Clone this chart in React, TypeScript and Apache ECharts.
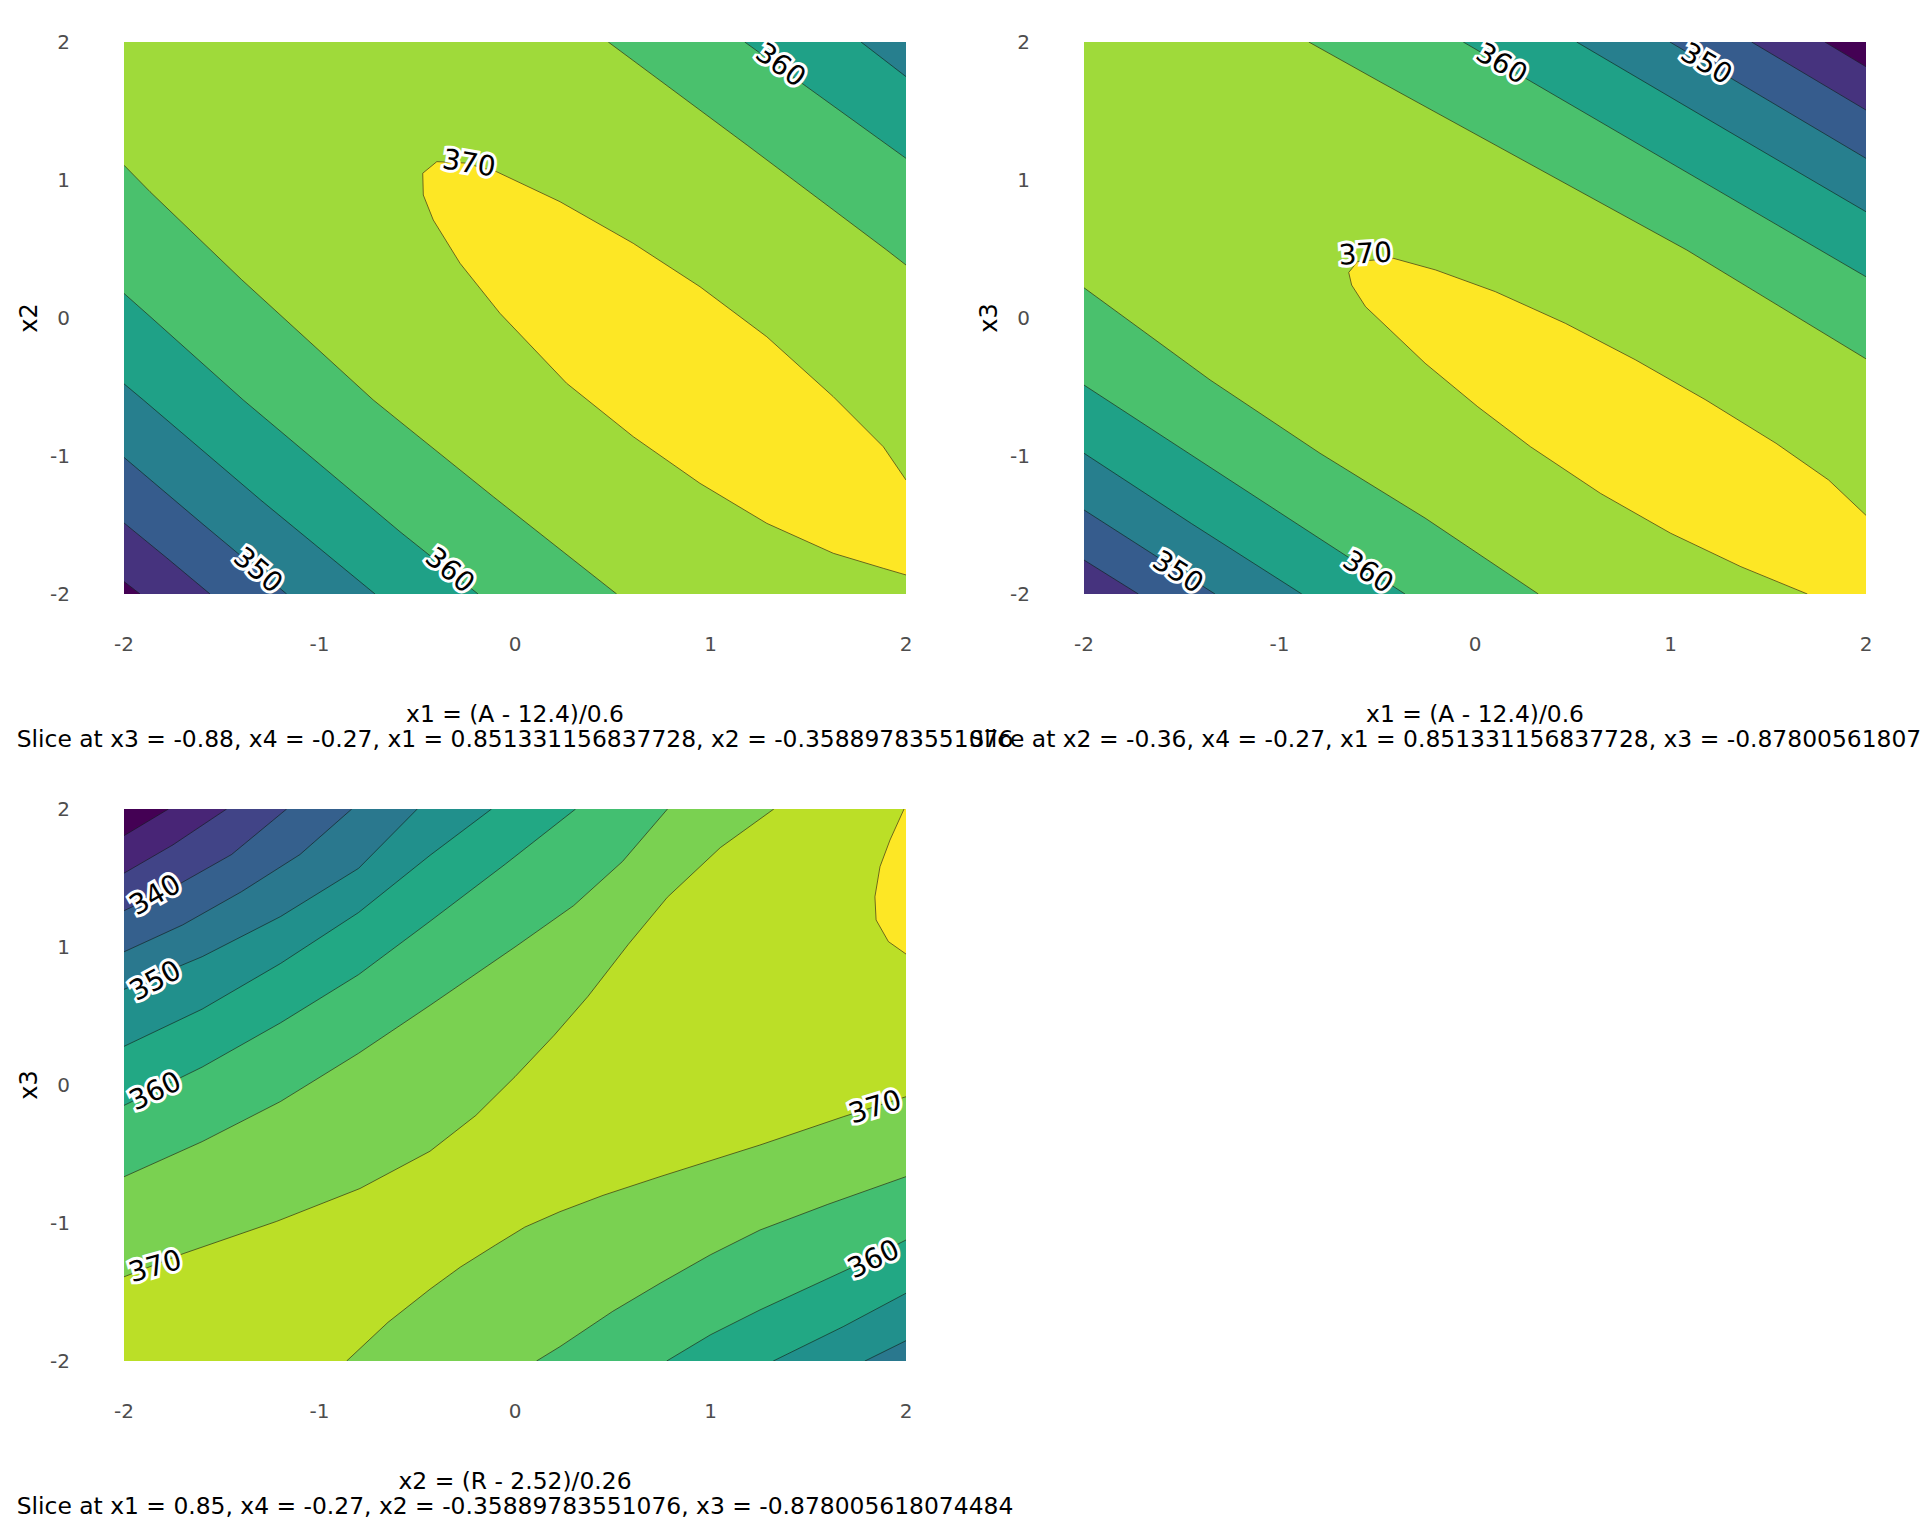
import React, { useEffect, useRef } from "react";
import * as echarts from "echarts";

type Pt = [number, number];

// ---------- palettes (viridis) ----------
const VIRIDIS_8 = ["#440154", "#46337E", "#365C8D", "#277F8E", "#1FA187", "#4AC16D", "#9FDA3A", "#FDE725"];
const VIRIDIS_11 = ["#440154", "#482576", "#414487", "#35608D", "#2A788E", "#21908C", "#22A884", "#43BF71", "#7AD151", "#BBDF27", "#FDE725"];

// ---------- panel 1 : x1 vs x2 ----------
const P1_LEVELS = [340, 345, 350, 355, 360, 365, 370];
const P1_L340_LL: Pt[] = [[-1.918, -2], [-2, -1.91]];
const P1_L345_LL: Pt[] = [[-1.56, -2], [-1.78, -1.74], [-2, -1.485]];
const P1_L350_LL: Pt[] = [[-1.168, -2], [-1.6, -1.49], [-2, -1.01]];
const P1_L355_LL: Pt[] = [[-0.716, -2], [-1.3, -1.32], [-1.901, -0.594], [-2, -0.477]];
const P1_L360_LL: Pt[] = [[-0.189, -2], [-0.588, -1.549], [-1.39, -0.594], [-1.867, 0.011], [-2, 0.178]];
const P1_L365_LL: Pt[] = [[0.52, -2], [-0.111, -1.295], [-0.588, -0.751], [-0.725, -0.594], [-1.4, 0.28], [-1.867, 0.915], [-2, 1.107]];
const P1_L355_UR: Pt[] = [[1.77, 2], [2, 1.749]];
const P1_L360_UR: Pt[] = [[1.175, 2], [1.492, 1.676], [2, 1.157]];
const P1_L365_UR: Pt[] = [[0.477, 2], [1.19, 1.25], [1.901, 0.493], [2, 0.384]];
const P1_L370: Pt[] = [
  [2, -1.862], [1.884, -1.814], [1.628, -1.705], [1.288, -1.488], [0.946, -1.198], [0.605, -0.86],
  [0.264, -0.473], [-0.077, 0.034], [-0.281, 0.396], [-0.418, 0.71], [-0.469, 0.891], [-0.472, 1.049],
  [-0.4, 1.133], [-0.256, 1.123], [-0.094, 1.06], [0.23, 0.843], [0.605, 0.541], [0.946, 0.227],
  [1.288, -0.136], [1.628, -0.57], [1.884, -0.933], [2, -1.174],
];
const P1_LABELS: [number, number, string, number][] = [
  [-0.235, 1.123, "370", -0.165],
  [1.36, 1.835, "360", -0.63],
  [-1.313, -1.826, "350", -0.7],
  [-0.332, -1.826, "360", -0.69],
];

// ---------- panel 2 : x1 vs x3 ----------
const P2_LEVELS = [340, 345, 350, 355, 360, 365, 370];
const P2_L345_LL: Pt[] = [[-1.722, -2], [-2, -1.754]];
const P2_L350_LL: Pt[] = [[-1.33, -2], [-2, -1.391]];
const P2_L355_LL: Pt[] = [[-0.886, -2], [-1.45, -1.49], [-2, -0.98]];
const P2_L360_LL: Pt[] = [[-0.358, -2], [-0.793, -1.6], [-1.4, -1.04], [-2, -0.486]];
const P2_L365_LL: Pt[] = [[0.324, -2], [-0.255, -1.45], [-0.793, -0.98], [-1.355, -0.449], [-2, 0.219]];
const P2_L340_UR: Pt[] = [[1.79, 2], [2, 1.821]];
const P2_L345_UR: Pt[] = [[1.415, 2], [2, 1.507]];
const P2_L350_UR: Pt[] = [[0.997, 2], [2, 1.157]];
const P2_L355_UR: Pt[] = [[0.52, 2], [1.3, 1.35], [2, 0.77]];
const P2_L360_UR: Pt[] = [[-0.06, 2], [1.765, 0.493], [2, 0.299]];
const P2_L365_UR: Pt[] = [[-0.85, 2], [-0.486, 1.712], [1.083, 0.493], [2, -0.296]];
const P2_L370: Pt[] = [
  [1.7, -2], [1.36, -1.802], [1.001, -1.56], [0.642, -1.271], [0.284, -0.933], [0.014, -0.643],
  [-0.255, -0.328], [-0.434, -0.087], [-0.56, 0.082], [-0.631, 0.239], [-0.646, 0.33], [-0.6, 0.41],
  [-0.416, 0.432], [-0.201, 0.348], [0.104, 0.191], [0.463, -0.039], [0.822, -0.304], [1.181, -0.594],
  [1.54, -0.908], [1.809, -1.174], [2, -1.43],
];
const P2_LABELS: [number, number, string, number][] = [
  [-0.561, 0.467, "370", 0.06],
  [0.137, 1.846, "360", -0.53],
  [1.185, 1.846, "350", -0.54],
  [-1.518, -1.838, "350", -0.57],
  [-0.546, -1.838, "360", -0.58],
];

// ---------- panel 3 : x2 vs x3 ----------
const P3_LEVELS = [330, 335, 340, 345, 350, 355, 360, 365, 370, 375];
const P3_L330_A: Pt[] = [[-2, 1.807], [-1.773, 2]];
const P3_L335_A: Pt[] = [[-2, 1.535], [-1.75, 1.74], [-1.475, 2]];
const P3_L340_A: Pt[] = [[-2, 1.263], [-1.75, 1.43], [-1.45, 1.67], [-1.168, 2]];
const P3_L345_A: Pt[] = [[-2, 0.965], [-1.7, 1.16], [-1.4, 1.4], [-1.1, 1.67], [-0.835, 2]];
const P3_L350_A: Pt[] = [[-2, 0.693], [-1.6, 0.93], [-1.2, 1.22], [-0.8, 1.57], [-0.5, 2]];
const P3_L355_A: Pt[] = [[-2, 0.28], [-1.6, 0.55], [-1.2, 0.88], [-0.8, 1.25], [-0.435, 1.664], [-0.12, 2]];
const P3_L360_A: Pt[] = [[-2, -0.148], [-1.6, 0.13], [-1.2, 0.45], [-0.8, 0.8], [-0.435, 1.186], [-0.05, 1.6], [0.31, 2]];
const P3_L365_A: Pt[] = [[-2, -0.665], [-1.6, -0.41], [-1.2, -0.12], [-0.8, 0.23], [-0.435, 0.577], [0, 1.0], [0.3, 1.3], [0.55, 1.62], [0.78, 2]];
const P3_L370_A: Pt[] = [
  [-2, -1.39], [-1.697, -1.222], [-1.219, -0.988], [-0.793, -0.75], [-0.435, -0.48],
  [-0.2, -0.22], [0, 0.06], [0.2, 0.36], [0.372, 0.64], [0.58, 1.02], [0.779, 1.36], [1.05, 1.72], [1.324, 2],
];
const P3_L350_B: Pt[] = [[2, -1.853], [1.79, -2]];
const P3_L355_B: Pt[] = [[2, -1.509], [1.679, -1.751], [1.321, -2]];
const P3_L360_B: Pt[] = [[2, -1.123], [1.731, -1.317], [1.253, -1.63], [1.0, -1.81], [0.776, -2]];
const P3_L365_B: Pt[] = [[2, -0.664], [1.6, -0.865], [1.253, -1.051], [1.0, -1.23], [0.742, -1.437], [0.5, -1.64], [0.23, -1.896], [0.11, -2]];
const P3_L370_B: Pt[] = [
  [2, -0.085], [1.679, -0.23], [1.253, -0.435], [0.742, -0.664], [0.45, -0.8], [0.23, -0.918],
  [0.05, -1.03], [-0.1, -1.16], [-0.28, -1.32], [-0.435, -1.48], [-0.65, -1.72], [-0.861, -2],
];
const P3_L375: Pt[] = [[2, 0.949], [1.91, 1.039], [1.847, 1.196], [1.841, 1.364], [1.867, 1.582], [1.918, 1.775], [1.99, 2]];
const P3_LABELS: [number, number, string, number][] = [
  [-1.841, 1.38, "340", 0.52],
  [-1.841, 0.758, "350", 0.5],
  [-1.841, -0.043, "360", 0.45],
  [-1.841, -1.312, "370", 0.28],
  [1.841, -0.157, "370", 0.3],
  [1.833, -1.259, "360", 0.45],
];

// ---------- texts ----------
const P1_XNAME = "x1 = (A - 12.4)/0.6";
const P1_SLICE = "Slice at x3 = -0.88, x4 = -0.27, x1 = 0.851331156837728, x2 = -0.35889783551076";
const P2_XNAME = "x1 = (A - 12.4)/0.6";
const P2_SLICE = "Slice at x2 = -0.36, x4 = -0.27, x1 = 0.851331156837728, x3 = -0.878005618074484";
const P3_XNAME = "x2 = (R - 2.52)/0.26";
const P3_SLICE = "Slice at x1 = 0.85, x4 = -0.27, x2 = -0.35889783551076, x3 = -0.878005618074484";
const YNAMES = ["x2", "x3", "x3"];

// region boundaries for each level (region where value > level)
const P1_BOUNDS: Pt[][][] = [
  [P1_L340_LL], [P1_L345_LL], [P1_L350_LL], [P1_L355_LL, P1_L355_UR],
  [P1_L360_LL, P1_L360_UR], [P1_L365_LL, P1_L365_UR], [P1_L370],
];
const P2_BOUNDS: Pt[][][] = [
  [P2_L340_UR], [P2_L345_LL, P2_L345_UR], [P2_L350_LL, P2_L350_UR], [P2_L355_LL, P2_L355_UR],
  [P2_L360_LL, P2_L360_UR], [P2_L365_LL, P2_L365_UR], [P2_L370],
];
const P3_BOUNDS: Pt[][][] = [
  [P3_L330_A], [P3_L335_A], [P3_L340_A], [P3_L345_A], [P3_L350_A, P3_L350_B],
  [P3_L355_A, P3_L355_B], [P3_L360_A, P3_L360_B], [P3_L365_A, P3_L365_B], [P3_L370_A, P3_L370_B], [P3_L375],
];

const FONT = "DejaVu Sans";
const CORNERS: [number, Pt][] = [[0, [-2, 2]], [4, [2, 2]], [8, [2, -2]], [12, [-2, -2]]];

function perim(p: Pt): number {
  const [x, y] = p;
  const e = 1e-6;
  if (Math.abs(y - 2) < e) return x + 2;
  if (Math.abs(x - 2) < e) return 4 + (2 - y);
  if (Math.abs(y + 2) < e) return 8 + (2 - x);
  return 12 + (y + 2);
}
function walk(a: Pt, b: Pt): Pt[] {
  const ta = perim(a);
  const tb = perim(b);
  const d = (tb - ta + 16) % 16;
  return CORNERS.map(([c, p]) => [(c - ta + 16) % 16, p] as [number, Pt])
    .filter(([dc]) => dc > 1e-9 && dc < d)
    .sort((u, v) => u[0] - v[0])
    .map(([, p]) => p);
}
function buildPolygon(lines: Pt[][]): Pt[] {
  if (!lines.length) return CORNERS.map((c) => c[1]);
  const pts: Pt[] = [];
  lines.forEach((ln, i) => {
    pts.push(...ln);
    const next = lines[(i + 1) % lines.length];
    pts.push(...walk(ln[ln.length - 1], next[0]));
  });
  return pts;
}

function panelSeries(idx: number, bounds: Pt[][][], palette: string[], labels: [number, number, string, number][]) {
  const polys = [buildPolygon([]), ...bounds.map((b) => buildPolygon(b))];
  const lines: Pt[][] = [];
  bounds.forEach((b) => b.forEach((l) => lines.push(l)));
  const fill = {
    type: "custom",
    xAxisIndex: idx,
    yAxisIndex: idx,
    silent: true,
    clip: true,
    data: polys.map(() => [0, 0]),
    renderItem: (params: any, api: any) => ({
      type: "polygon",
      shape: { points: polys[params.dataIndex].map((p) => api.coord(p)) },
      style: { fill: palette[params.dataIndex], stroke: palette[params.dataIndex], lineWidth: 0.5 },
    }),
  };
  const stroke = {
    type: "custom",
    xAxisIndex: idx,
    yAxisIndex: idx,
    silent: true,
    clip: true,
    data: lines.map(() => [0, 0]),
    renderItem: (params: any, api: any) => ({
      type: "polyline",
      shape: { points: lines[params.dataIndex].map((p) => api.coord(p)) },
      style: { fill: "none", stroke: "rgba(20,20,20,0.75)", lineWidth: 0.8 },
    }),
  };
  const text = {
    type: "custom",
    xAxisIndex: idx,
    yAxisIndex: idx,
    silent: true,
    clip: false,
    data: labels.map((l) => [l[0], l[1]]),
    renderItem: (params: any, api: any) => {
      const l = labels[params.dataIndex];
      const [x, y] = api.coord([l[0], l[1]]);
      const base = { text: l[2], fontSize: 28, fontFamily: FONT, align: "center", verticalAlign: "middle" };
      return {
        type: "group",
        children: [
          { type: "text", x, y, rotation: l[3], style: { ...base, fill: "#fff", stroke: "#fff", lineWidth: 6, lineJoin: "round" } },
          { type: "text", x, y, rotation: l[3], style: { ...base, fill: "#000" } },
        ],
      };
    },
  };
  return [fill, stroke, text];
}

const GRIDS = [
  { left: 124, top: 42, width: 782, height: 552, outerBoundsMode: "none", containLabel: false },
  { left: 1084, top: 42, width: 782, height: 552, outerBoundsMode: "none", containLabel: false },
  { left: 124, top: 809, width: 782, height: 552, outerBoundsMode: "none", containLabel: false },
];
const XNAMES = [P1_XNAME + "\n" + P1_SLICE, P2_XNAME + "\n" + P2_SLICE, P3_XNAME + "\n" + P3_SLICE];

export default function App() {
  const ref = useRef<HTMLDivElement>(null);
  useEffect(() => {
    document.body.style.margin = "0";
    const chart = echarts.init(ref.current!, undefined, { renderer: "svg" });
    const axisLabel = { color: "#4d4d4d", fontSize: 20, fontFamily: FONT };
    const option: any = {
      animation: false,
      backgroundColor: "#ffffff",
      grid: GRIDS,
      xAxis: GRIDS.map((_, i) => ({
        gridIndex: i,
        type: "value",
        min: -2,
        max: 2,
        interval: 1,
        axisLine: { show: false },
        axisTick: { show: false },
        splitLine: { show: false },
        axisLabel: { ...axisLabel, margin: 40 },
        name: XNAMES[i],
        nameLocation: "middle",
        nameGap: 108,
        nameTextStyle: { color: "#000", fontSize: 23.4, fontFamily: FONT, lineHeight: 24.5 },
      })),
      yAxis: GRIDS.map((_, i) => ({
        gridIndex: i,
        type: "value",
        min: -2,
        max: 2,
        interval: 1,
        axisLine: { show: false },
        axisTick: { show: false },
        splitLine: { show: false },
        axisLabel: { ...axisLabel, margin: 54 },
        name: YNAMES[i],
        nameLocation: "middle",
        nameRotate: 90,
        nameGap: 83,
        nameTextStyle: { color: "#000", fontSize: 24, fontFamily: FONT },
      })),
      series: [
        ...panelSeries(0, P1_BOUNDS, VIRIDIS_8, P1_LABELS),
        ...panelSeries(1, P2_BOUNDS, VIRIDIS_8, P2_LABELS),
        ...panelSeries(2, P3_BOUNDS, VIRIDIS_11, P3_LABELS),
      ],
    };
    void P1_LEVELS; void P2_LEVELS; void P3_LEVELS;
    chart.setOption(option);
    return () => chart.dispose();
  }, []);
  return <div ref={ref} style={{ position: "absolute", left: 0, top: 0, width: 1920, height: 1536 }} />;
}
